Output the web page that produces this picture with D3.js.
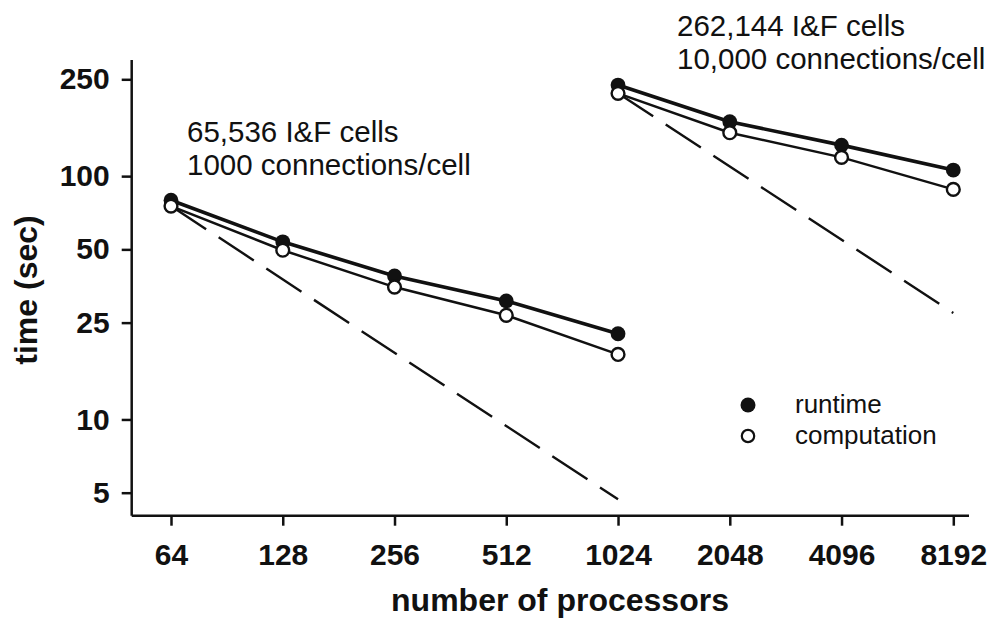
<!DOCTYPE html>
<meta charset="utf-8">
<style>
body { margin: 0; background: #fff; }
svg text { font-family: "Liberation Sans", Arial, sans-serif; fill: #111; }
.axis text { font-weight: bold; font-size: 30px; }
.axis line, .axis path { stroke: #111; stroke-width: 2.5px; }
.title { font-weight: bold; font-size: 32px; }
.note { font-size: 29.5px; }
.legend { font-size: 26px; }
</style>
<body>
<script src="https://d3js.org/d3.v7.min.js"></script>
<script>

// processors on the x axis
var procTicks = [64, 128, 256, 512, 1024, 2048, 4096, 8192];
var timeTicks = [5, 10, 25, 50, 100, 250];

// 65,536 cells, 1000 connections/cell
var smallProcs = [64, 128, 256, 512, 1024];
var smallRuntime = [79.6, 53.7, 38.9, 30.7, 22.5];
var smallComp = [75.3, 49.6, 35.0, 26.8, 18.5];
var smallIdeal = [75.3, 4.7];   // at 64 and 1024

// 262,144 cells, 10,000 connections/cell
var bigProcs = [1024, 2048, 4096, 8192];
var bigRuntime = [236.8, 167.3, 134.1, 105.9];
var bigComp = [218.9, 150.8, 119.4, 88.2];
var bigIdeal = [218.9, 27.4];   // at 1024 and 8192

var width = 994, height = 621;

var svg = d3.select("body").append("svg")
    .attr("width", width)
    .attr("height", height);

// scales
var x = d3.scaleLog().base(2).domain([64, 8192]).range([171, 953.3]);
var y = d3.scaleLog().domain([5, 250]).range([492.7, 79.3]);

var axisLeftX = 131.7, axisBottomY = 515.7;

// x axis
var gx = svg.append("g")
    .attr("class", "axis")
    .attr("transform", "translate(0," + axisBottomY + ")")
    .call(d3.axisBottom(x).tickValues(procTicks).tickFormat(d3.format("d"))
      .tickSize(10).tickPadding(18));
gx.select(".domain").remove();
gx.selectAll("text").attr("dy", "0.71em");
gx.append("line")
    .attr("x1", axisLeftX).attr("x2", 969)
    .attr("y1", 0).attr("y2", 0);

// y axis
var gy = svg.append("g")
    .attr("class", "axis")
    .attr("transform", "translate(" + axisLeftX + ",0)")
    .call(d3.axisLeft(y).tickValues(timeTicks).tickFormat(d3.format("d"))
      .tickSize(10).tickPadding(12));
gy.select(".domain").remove();
gy.append("line")
    .attr("x1", 0).attr("x2", 0)
    .attr("y1", 60).attr("y2", axisBottomY);

// axis titles
svg.append("text")
    .attr("class", "title")
    .attr("x", 560).attr("y", 611)
    .style("text-anchor", "middle")
    .text("number of processors");

svg.append("text")
    .attr("class", "title")
    .attr("transform", "translate(37,290) rotate(-90)")
    .style("text-anchor", "middle")
    .text("time (sec)");

// draw one group of series
function drawGroup(procs, runtime, comp, ideal) {
  var line = d3.line()
      .x(function(d) { return x(d[0]); })
      .y(function(d) { return y(d[1]); });

  var idealPts = [[procs[0], ideal[0]], [procs[procs.length - 1], ideal[1]]];
  svg.append("path")
      .datum(idealPts)
      .attr("fill", "none")
      .attr("stroke", "#111")
      .attr("stroke-width", 2.4)
      .attr("stroke-dasharray", "42,15")
      .attr("d", line);

  var compPts = procs.map(function(p, i) { return [p, comp[i]]; });
  var runPts = procs.map(function(p, i) { return [p, runtime[i]]; });

  svg.append("path")
      .datum(compPts)
      .attr("fill", "none")
      .attr("stroke", "#111")
      .attr("stroke-width", 2.5)
      .attr("d", line);

  svg.append("path")
      .datum(runPts)
      .attr("fill", "none")
      .attr("stroke", "#111")
      .attr("stroke-width", 3.6)
      .attr("d", line);

  svg.selectAll(null)
      .data(runPts)
      .enter().append("circle")
      .attr("cx", function(d) { return x(d[0]); })
      .attr("cy", function(d) { return y(d[1]); })
      .attr("r", 7.4)
      .attr("fill", "#111");

  svg.selectAll(null)
      .data(compPts)
      .enter().append("circle")
      .attr("cx", function(d) { return x(d[0]); })
      .attr("cy", function(d) { return y(d[1]); })
      .attr("r", 6.4)
      .attr("fill", "#fff")
      .attr("stroke", "#111")
      .attr("stroke-width", 2.4);
}

drawGroup(smallProcs, smallRuntime, smallComp, smallIdeal);
drawGroup(bigProcs, bigRuntime, bigComp, bigIdeal);

// annotations
svg.append("text").attr("class", "note").attr("x", 187).attr("y", 142).text("65,536 I&F cells");
svg.append("text").attr("class", "note").attr("x", 187).attr("y", 175).text("1000 connections/cell");
svg.append("text").attr("class", "note").attr("x", 677).attr("y", 36).text("262,144 I&F cells");
svg.append("text").attr("class", "note").attr("x", 677).attr("y", 69).text("10,000 connections/cell");

// legend
svg.append("circle").attr("cx", 748).attr("cy", 405).attr("r", 7.5).attr("fill", "#111");
svg.append("text").attr("class", "legend").attr("x", 795).attr("y", 413).text("runtime");
svg.append("circle").attr("cx", 748).attr("cy", 436).attr("r", 6.2)
    .attr("fill", "#fff").attr("stroke", "#111").attr("stroke-width", 2.2);
svg.append("text").attr("class", "legend").attr("x", 795).attr("y", 444).text("computation");

</script>
</body>
